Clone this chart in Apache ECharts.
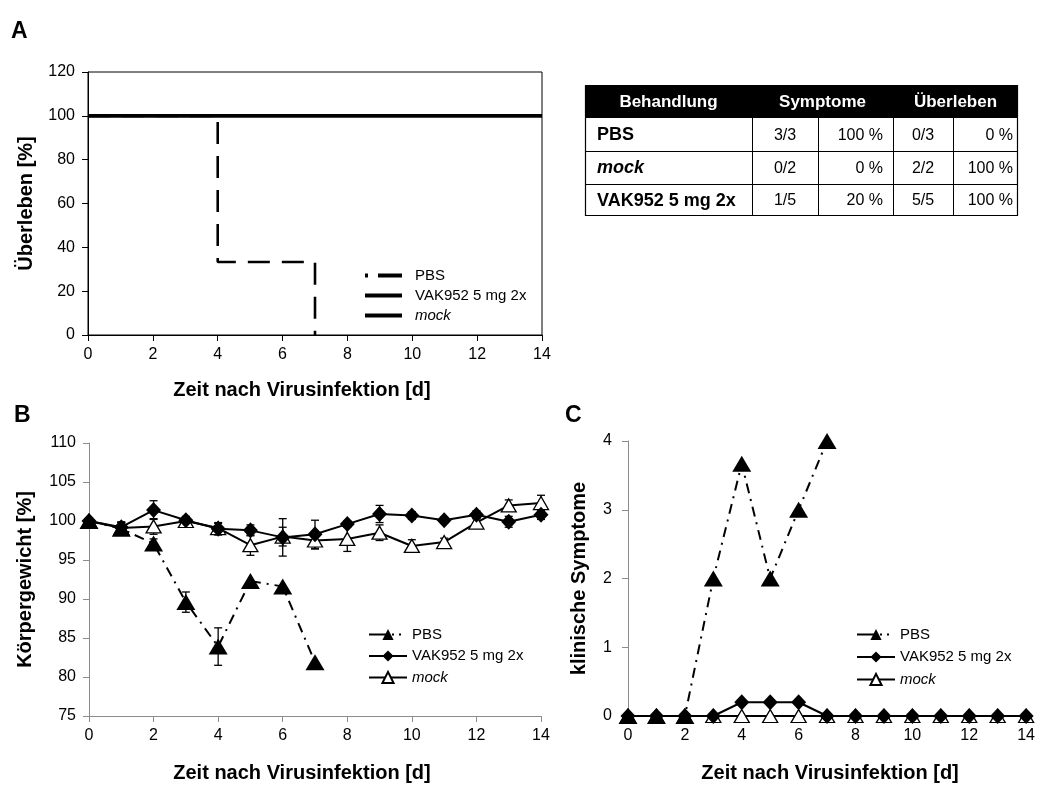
<!DOCTYPE html>
<html><head><meta charset="utf-8">
<script src="https://cdn.jsdelivr.net/npm/echarts@6/dist/echarts.min.js"></script>
<style>html,body{margin:0;padding:0;background:#fff}#c{width:1038px;height:785px}</style>
</head><body><div id="c"></div><script>
// ---------- DATA ----------
const survDaysPBS = [0, 4, 7];
const survPBS = [100, 33.3, 0];
const survDaysFlat = [0, 14];
const survVAK = [100, 100];
const survMock = [100, 100];

const days = [0,1,2,3,4,5,6,7,8,9,10,11,12,13,14];
const weightPBS    = [100.0, 99.0, 97.1, 89.6, 83.9, 92.3, 91.6, 81.9];
const weightPBSErr = [0.3, 0.8, 0.6, 1.3, 2.4, 0, 0, 0];
const weightVAK    = [100.0, 99.2, 101.4, 100.1, 99.0, 98.8, 97.9, 98.3, 99.6, 100.9, 100.7, 100.1, 100.8, 99.9, 100.8];
const weightVAKErr = [0.3, 0.6, 1.2, 0.5, 0.8, 0.7, 2.4, 1.8, 0.4, 1.1, 0.5, 0.4, 0.5, 0.7, 0.6];
const weightMock   = [100.0, 99.1, 99.3, 100.0, 99.1, 96.9, 98.0, 97.5, 97.7, 98.5, 96.8, 97.3, 99.8, 102.0, 102.3];
const weightMockErr= [0.3, 0.8, 1.0, 0.5, 0.6, 1.3, 1.2, 1.1, 1.6, 1.0, 0.8, 0.5, 0.5, 0.7, 1.0];

const symPBS  = [0, 0, 0, 2, 3.67, 2, 3, 4];
const symVAK  = [0, 0, 0, 0, 0.2, 0.2, 0.2, 0, 0, 0, 0, 0, 0, 0, 0];
const symMock = [0, 0, 0, 0, 0, 0, 0, 0, 0, 0, 0, 0, 0, 0, 0];

const legendNames = ['PBS', 'VAK952 5 mg 2x', 'mock'];

const tableHeader = ['Behandlung', 'Symptome', 'Überleben'];
const tableGroups = ['PBS', 'mock', 'VAK952 5 mg 2x'];
const sympCount = ['3/3', '0/2', '1/5'];
const sympPct   = ['100 %', '0 %', '20 %'];
const survCount = ['0/3', '2/2', '5/5'];
const survPct   = ['0 %', '100 %', '100 %'];

// ---------- CHART ----------
const FONT = 'Liberation Sans, Arial, Helvetica, sans-serif';
const chart = echarts.init(document.getElementById('c'), null, {renderer: 'canvas'});
const pair = (xs, ys) => ys.map((v, i) => [xs[i], v]);
const DASH_A = [22, 12];
const DASHDOT = [10, 6, 2, 6];

function axisX(gi, dark, nameGap, shift) {
  const col = dark ? '#000' : '#8c8c8c';
  return {
    type: 'value', gridIndex: gi, min: 0, max: 14, interval: 2,
    axisLine: {show: true, lineStyle: {color: col, width: 1}},
    axisTick: {show: true, inside: false, length: 6, lineStyle: {color: col}},
    axisLabel: {color: '#000', fontSize: 16, fontFamily: FONT, margin: 12},
    splitLine: {show: false},
    name: 'Zeit nach Virusinfektion [d]', nameLocation: 'middle', nameGap: nameGap, nameMoveOverlap: false,
    nameTextStyle: {color: '#000', fontSize: 20, fontWeight: 'bold', fontFamily: FONT,
      padding: shift > 0 ? [0, shift, 0, 0] : [0, 0, 0, -shift]}
  };
}
function axisY(gi, dark, min, max, interval, name, nameGap, margin) {
  const col = dark ? '#000' : '#8c8c8c';
  return {
    type: 'value', gridIndex: gi, min: min, max: max, interval: interval,
    axisLine: {show: true, lineStyle: {color: col, width: 1}},
    axisTick: {show: true, inside: false, length: 6, lineStyle: {color: col}},
    axisLabel: {color: '#000', fontSize: 16, fontFamily: FONT, margin: margin},
    splitLine: {show: false},
    name: name, nameLocation: 'middle', nameGap: nameGap, nameMoveOverlap: false,
    nameTextStyle: {color: '#000', fontSize: 20, fontWeight: 'bold', fontFamily: FONT}
  };
}

function errSeries(xi, yi, vals, errs) {
  const data = [];
  vals.forEach((v, i) => { if (errs[i] > 0) data.push([i, v - errs[i], v + errs[i]]); });
  return {
    type: 'custom', xAxisIndex: xi, yAxisIndex: yi, z: 1, silent: true, clip: false,
    data: data,
    renderItem: function (params, api) {
      const x = api.value(0);
      const lo = api.coord([x, api.value(1)]);
      const hi = api.coord([x, api.value(2)]);
      const w = 4;
      const st = {stroke: '#000', lineWidth: 1.3};
      return {type: 'group', children: [
        {type: 'line', shape: {x1: lo[0], y1: lo[1], x2: hi[0], y2: hi[1]}, style: st},
        {type: 'line', shape: {x1: lo[0] - w, y1: lo[1], x2: lo[0] + w, y2: lo[1]}, style: st},
        {type: 'line', shape: {x1: hi[0] - w, y1: hi[1], x2: hi[0] + w, y2: hi[1]}, style: st}
      ]};
    }
  };
}

function markerSeries(prefix, xi, yi, pbs, vak, mock) {
  return [
    {name: prefix + 'mock', type: 'line', xAxisIndex: xi, yAxisIndex: yi, z: 2, clip: false,
     data: pair(days, mock), symbol: 'triangle', symbolSize: [15, 13], showAllSymbol: true,
     lineStyle: {color: '#000', width: 2}, itemStyle: {color: '#fff', borderColor: '#000', borderWidth: 1.3}},
    {name: prefix + 'VAK', type: 'line', xAxisIndex: xi, yAxisIndex: yi, z: 3, clip: false,
     data: pair(days, vak), symbol: 'diamond', symbolSize: [15, 16], showAllSymbol: true,
     lineStyle: {color: '#000', width: 2}, itemStyle: {color: '#000', borderColor: '#000', borderWidth: 0}},
    {name: prefix + 'PBS', type: 'line', xAxisIndex: xi, yAxisIndex: yi, z: 4, clip: false,
     data: pair(days, pbs), symbol: 'triangle', symbolSize: [19, 16], showAllSymbol: true,
     lineStyle: {color: '#000', width: 2, type: DASHDOT}, itemStyle: {color: '#000', borderColor: '#000', borderWidth: 0}}
  ];
}

function legendFor(prefix, left, top, gap, iconW, isA) {
  const keys = ['PBS', 'VAK', 'mock'];
  const data = keys.map(k => {
    const d = {name: prefix + k};
    if (isA) {
      d.itemStyle = {opacity: 0};
      d.lineStyle = {width: 4, type: k === 'PBS' ? [3, 10, 24, 10] : 'solid', color: '#000'};
    } else if (k === 'PBS') {
      d.lineStyle = {width: 2, type: [17, 6, 2, 5, 2, 8], color: '#000'};
    }
    return d;
  });
  return {
    data: data,
    orient: 'vertical', left: left, top: top, itemWidth: iconW, itemHeight: 14, itemGap: gap,
    padding: 0, selectedMode: false,
    formatter: function (n) {
      const k = n.slice(prefix.length);
      if (k === 'PBS') return legendNames[0];
      if (k === 'VAK') return legendNames[1];
      return '{i|' + legendNames[2] + '}';
    },
    textStyle: {color: '#000', fontSize: 15, fontFamily: FONT, padding: [0, 0, 0, isA ? 8 : 0],
      rich: {i: {fontStyle: 'italic', fontSize: 15, fontFamily: FONT, color: '#000'}}}
  };
}

// ---- table graphic ----
const TX = [585, 752, 818, 893, 953, 1018];
const TY = [85, 118, 151, 184, 216];
const gfx = [];
gfx.push({type: 'rect', shape: {x: TX[0], y: TY[0], width: TX[5] - TX[0], height: TY[1] - TY[0]}, style: {fill: '#000'}});
gfx.push({type: 'rect', shape: {x: TX[0] + 0.5, y: TY[0] + 0.5, width: TX[5] - TX[0] - 1, height: TY[4] - TY[0] - 1}, style: {fill: 'none', stroke: '#000', lineWidth: 1.2}});
for (let r = 2; r < 4; r++) gfx.push({type: 'line', shape: {x1: TX[0], y1: TY[r] + 0.5, x2: TX[5], y2: TY[r] + 0.5}, style: {stroke: '#000', lineWidth: 1}});
for (let c = 1; c < 5; c++) gfx.push({type: 'line', shape: {x1: TX[c] + 0.5, y1: TY[1], x2: TX[c] + 0.5, y2: TY[4]}, style: {stroke: '#000', lineWidth: 1}});
const hdrX = [(TX[0] + TX[1]) / 2, (TX[1] + TX[3]) / 2, (TX[3] + TX[5]) / 2];
tableHeader.forEach((t, i) => gfx.push({type: 'text', x: hdrX[i], y: (TY[0] + TY[1]) / 2 + 1,
  style: {text: t, fill: '#fff', font: 'bold 17px ' + FONT, textAlign: 'center', textVerticalAlign: 'middle'}}));
tableGroups.forEach((g, r) => {
  const cy = (TY[r + 1] + TY[r + 2]) / 2 + 1;
  gfx.push({type: 'text', x: TX[0] + 12, y: cy, style: {text: g, fill: '#000',
    font: (g === 'mock' ? 'italic ' : '') + 'bold 18px ' + FONT, textAlign: 'left', textVerticalAlign: 'middle'}});
  gfx.push({type: 'text', x: (TX[1] + TX[2]) / 2, y: cy, style: {text: sympCount[r], fill: '#000', font: '16px ' + FONT, textAlign: 'center', textVerticalAlign: 'middle'}});
  gfx.push({type: 'text', x: TX[3] - 10, y: cy, style: {text: sympPct[r], fill: '#000', font: '16px ' + FONT, textAlign: 'right', textVerticalAlign: 'middle'}});
  gfx.push({type: 'text', x: (TX[3] + TX[4]) / 2, y: cy, style: {text: survCount[r], fill: '#000', font: '16px ' + FONT, textAlign: 'center', textVerticalAlign: 'middle'}});
  gfx.push({type: 'text', x: TX[5] - 5, y: cy, style: {text: survPct[r], fill: '#000', font: '16px ' + FONT, textAlign: 'right', textVerticalAlign: 'middle'}});
});
[['A', 11, 20], ['B', 14, 404], ['C', 565, 404]].forEach(p => gfx.push({type: 'text', x: p[1], y: p[2],
  style: {text: p[0], fill: '#000', font: 'bold 23px ' + FONT, textAlign: 'left', textVerticalAlign: 'top'}}));

const option = {
  animation: false,
  backgroundColor: '#fff',
  textStyle: {fontFamily: FONT},
  grid: [
    {left: 88, top: 72, width: 454, height: 263, show: true, borderColor: '#000', borderWidth: 1, backgroundColor: 'transparent'},
    {left: 89, top: 443, width: 452, height: 273},
    {left: 628, top: 441, width: 399, height: 275}
  ],
  xAxis: [axisX(0, true, 45, 26), axisX(1, false, 47, 26), axisX(2, false, 47, -6)],
  yAxis: [
    axisY(0, true, 0, 120, 20, 'Überleben [%]', 52, 13),
    axisY(1, false, 75, 110, 5, 'Körpergewicht [%]', 54, 13),
    axisY(2, false, 0, 4, 1, 'klinische Symptome', 39, 16)
  ],
  legend: [
    legendFor('A_', 363, 268, 5, 37, true),
    legendFor('B_', 368, 627, 6.5, 38, false),
    legendFor('C_', 856, 627, 7.5, 38, false)
  ],
  series: [
    {name: 'A_mock', type: 'line', xAxisIndex: 0, yAxisIndex: 0, data: pair(survDaysFlat, survMock), symbol: 'none', lineStyle: {color: '#000', width: 3.5}, itemStyle: {color: '#000'}, z: 2},
    {name: 'A_VAK', type: 'line', xAxisIndex: 0, yAxisIndex: 0, data: pair(survDaysFlat, survVAK), symbol: 'none', lineStyle: {color: '#000', width: 3.5}, itemStyle: {color: '#000'}, z: 3},
    {name: 'A_PBS', type: 'line', xAxisIndex: 0, yAxisIndex: 0, data: pair(survDaysPBS, survPBS), step: 'end', symbol: 'none', lineStyle: {color: '#000', width: 2.6, type: DASH_A}, itemStyle: {color: '#000'}, z: 1},
    errSeries(1, 1, weightMock, weightMockErr),
    errSeries(1, 1, weightVAK, weightVAKErr),
    errSeries(1, 1, weightPBS, weightPBSErr),
    ...markerSeries('B_', 1, 1, weightPBS, weightVAK, weightMock),
    ...markerSeries('C_', 2, 2, symPBS, symVAK, symMock)
  ],
  graphic: gfx
};
chart.setOption(option);
</script></body></html>
